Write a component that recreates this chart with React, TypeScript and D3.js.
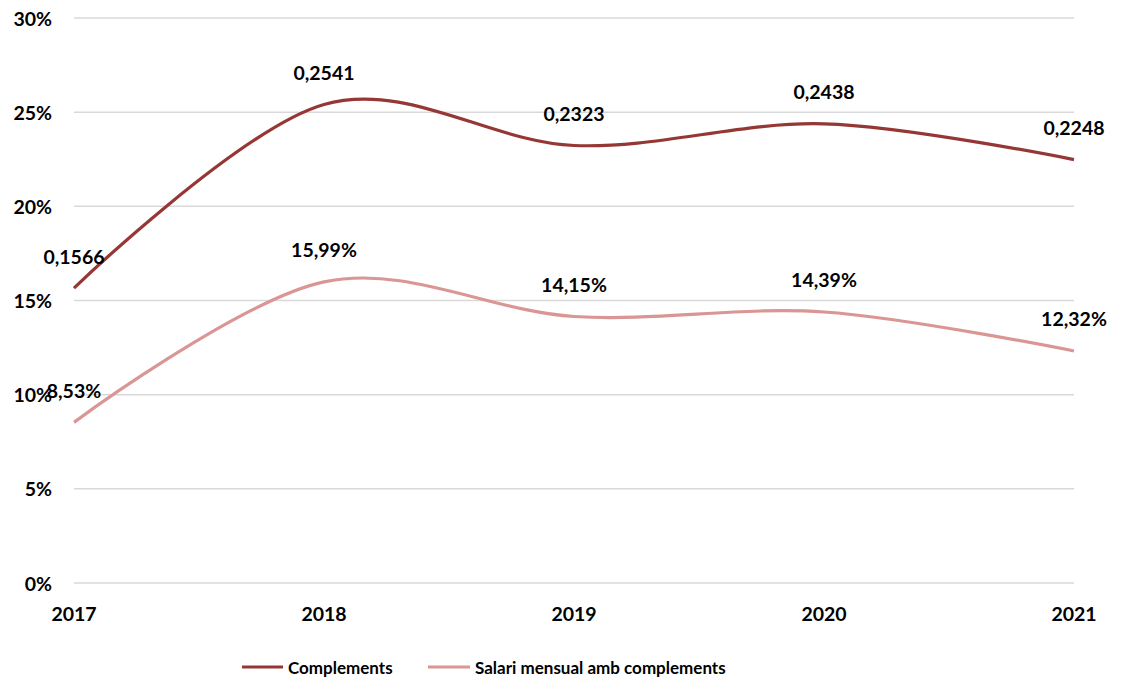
import React from "react";
import * as d3 from "d3";

const years = ["2017", "2018", "2019", "2020", "2021"];
const complements = [0.1566, 0.2541, 0.2323, 0.2438, 0.2248];
const salari = [0.0853, 0.1599, 0.1415, 0.1439, 0.1232];
const yTicks = [0, 0.05, 0.1, 0.15, 0.2, 0.25, 0.3];
const seriesNames = ["Complements", "Salari mensual amb complements"];
const colors = ["#953735", "#d99694"];

const W = 1123, H = 679;
const FONT = "Lato, 'Open Sans', sans-serif";

export default function App() {
  const x = d3.scalePoint<string>().domain(years).range([74, 1074]);
  const y = d3.scaleLinear().domain([0, 0.3]).range([583, 18]);
  const line = d3
    .line<number>()
    .x((_, i) => x(years[i]) as number)
    .y((d) => y(d))
    .curve(d3.curveCardinal.tension(0));

  const fmtDec = (v: number) => v.toFixed(4).replace(".", ",");
  const fmtPct = (v: number) => (v * 100).toFixed(2).replace(".", ",") + "%";

  const series = [
    { name: seriesNames[0], data: complements, color: colors[0], fmt: fmtDec },
    { name: seriesNames[1], data: salari, color: colors[1], fmt: fmtPct },
  ];

  return (
    <svg
      width={W}
      height={H}
      style={{ position: "absolute", left: 0, top: 0, background: "#fff" }}
      fontFamily={FONT}
      fontWeight="bold"
    >
      {yTicks.map((t) => (
        <g key={t}>
          <line x1={74} x2={1074} y1={y(t)} y2={y(t)} stroke="#d9d9d9" strokeWidth={1.5} />
          <text x={52} y={y(t)} textAnchor="end" dominantBaseline="central" fontSize={19.5} fill="#000">
            {Math.round(t * 100)}%
          </text>
        </g>
      ))}
      {years.map((yr) => (
        <text key={yr} x={x(yr)} y={613} textAnchor="middle" dominantBaseline="central" fontSize={19.5} fill="#000">
          {yr}
        </text>
      ))}
      {series.map((s) => (
        <path key={s.name} d={line(s.data) || ""} fill="none" stroke={s.color} strokeWidth={3.2} />
      ))}
      {series.map((s) =>
        s.data.map((v, i) => (
          <text
            key={s.name + i}
            x={x(years[i])}
            y={y(v) - 32}
            textAnchor="middle"
            dominantBaseline="central"
            fontSize={19.5}
            fill="#000"
          >
            {s.fmt(v)}
          </text>
        ))
      )}
      <g>
        <line x1={242} x2={283} y1={667} y2={667} stroke={colors[0]} strokeWidth={3.2} />
        <text x={288} y={667} dominantBaseline="central" fontSize={17} fill="#000">
          {seriesNames[0]}
        </text>
        <line x1={428} x2={470} y1={667} y2={667} stroke={colors[1]} strokeWidth={3.2} />
        <text x={475} y={667} dominantBaseline="central" fontSize={17} fill="#000">
          {seriesNames[1]}
        </text>
      </g>
    </svg>
  );
}
